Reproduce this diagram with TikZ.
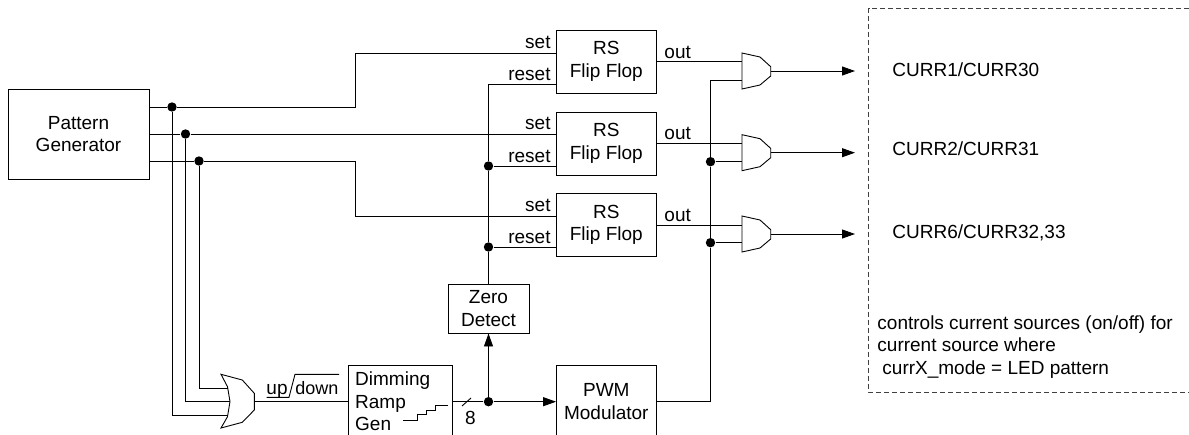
\documentclass[tikz,border=0pt]{standalone}
\usepackage{fontspec}
\setmainfont{Liberation Sans}
\usetikzlibrary{arrows.meta}

\begin{document}
\begin{tikzpicture}[x=1pt,y=-1pt,line width=0.9pt,>={Triangle[length=13pt,width=9pt]},
  every node/.style={font=\fontsize{19}{22.5}\selectfont}]
  \tikzstyle{block}=[draw,rectangle,inner sep=0pt,align=center]
  \tikzstyle{flipflop}=[block,minimum width=99.5pt,minimum height=63pt]
  \tikzstyle{dot}=[circle,fill=black,inner sep=0pt,minimum size=9.4pt]
  \tikzstyle{lbl}=[inner sep=0pt,anchor=base east]
  \tikzstyle{outlbl}=[inner sep=0pt,anchor=base west]
  \tikzstyle{sink}=[inner sep=0pt,anchor=west]
  \useasboundingbox (0,0) rectangle (1189,434);

  \node [block,minimum width=141pt,minimum height=90pt] (gen) at (78.5,134) {Pattern\\Generator};
  \node [flipflop] (ff1) at (606.3,61.5) {RS\\Flip Flop};
  \node [flipflop] (ff2) at (606.3,143.5) {RS\\Flip Flop};
  \node [flipflop] (ff3) at (606.3,225) {RS\\Flip Flop};
  \node [block,minimum width=81pt,minimum height=49pt] (zero) at (488.5,308.5) {Zero\\Detect};
  \node [block,minimum width=104.5pt,minimum height=72pt,text width=90pt,align=left] (ramp) at (400.2,401.7) {Dimming\\Ramp\\Gen};
  \node [block,minimum width=99.5pt,minimum height=72pt] (pwm) at (606.3,401.7) {PWM\\Modulator};

  % pattern generator outputs
  \coordinate (gen1) at (149,107);
  \coordinate (gen3) at (149,161);
  \node [dot] (d1) at (172,107) {};
  \node [dot] (d2) at (185.5,134) {};
  \node [dot] (d3) at (199,161) {};
  \coordinate (s1) at (556.5,53);
  \coordinate (s2) at (556.5,134);
  \coordinate (s3) at (556.5,216);
  \coordinate (r1) at (556.5,84);
  \coordinate (r2) at (556.5,166);
  \coordinate (r3) at (556.5,247);
  \draw (gen1) -- (d1) -- (355,107) -- (355,53) -- (s1);
  \draw (gen.east |- d2) -- (d2) -- (s2);
  \draw (gen3) -- (d3) -- (355,161) -- (355,216) -- (s3);

  % or gate
  \draw (221,374.3) -- (242.3,380) -- (254.3,393.3) -- (254.3,410) -- (242.3,422.3)
        -- (221,428) -- (227.5,416.7) -- (230,401.7) -- (227.5,386.7) -- cycle;
  \coordinate (or1) at (228,388.3);
  \coordinate (or2) at (230,401.7);
  \coordinate (or3) at (228,415);
  \coordinate (orout) at (254.3,401.7);
  \draw (d1) |- (or3);
  \draw (d2) |- (or2);
  \draw (d3) |- (or1);
  \draw (orout) -- (ramp);
  \node [inner sep=0pt,anchor=base west] (updown) at (266,394) {up};
  \node [inner sep=0pt,anchor=base west,font=\fontsize{18}{22}\selectfont] (downlbl) at (295,394) {down};
  \draw (266.7,397.3) -- (289,397.3) -- (295,374.3) -- (339,374.3);

  % ramp output and staircase
  \draw (403,420) -- (417,420) -- (417,414.3) -- (426,414.3) -- (426,410) -- (435,410) -- (435,405.7) -- (447.7,405.7);
  \node [dot] (d4) at (488.5,401.7) {};
  \draw (ramp) -- (d4);
  \draw (462,406) -- (471,398);
  \node [inner sep=0pt] (width) at (470.5,418) {8};
  \draw [->] (d4) -- (zero);
  \draw [->] (d4) -- (pwm);

  % reset bus
  \node [dot] (d5) at (488.5,166) {};
  \node [dot] (d6) at (488.5,247) {};
  \draw (zero) -- (d6) -- (d5) -- (488.5,84) -- (r1);
  \draw (d5) -- (r2);
  \draw (d6) -- (r3);

  \node [lbl] (set1) at (551,48.5) {set};
  \node [lbl] (reset1) at (551,80) {reset};
  \node [lbl] (set2) at (551,129.5) {set};
  \node [lbl] (reset2) at (551,162) {reset};
  \node [lbl] (set3) at (551,211.5) {set};
  \node [lbl] (reset3) at (551,243) {reset};
  \node [outlbl] (out1) at (664,58) {out};
  \node [outlbl] (out2) at (664,139) {out};
  \node [outlbl] (out3) at (664,221) {out};

  % and gates
  \draw (742,53) -- (760,57) -- (770.7,66.7) -- (770.7,76) -- (760,85) -- (742,89) -- cycle;
  \draw (742,134.7) -- (760,138.7) -- (770.7,148.4) -- (770.7,157.7) -- (760,166.7) -- (742,170.7) -- cycle;
  \draw (742,216) -- (760,220) -- (770.7,229.7) -- (770.7,239) -- (760,248) -- (742,252) -- cycle;
  \coordinate (a1) at (742,61.5);
  \coordinate (b1) at (742,80);
  \coordinate (c1) at (770.7,71);
  \coordinate (a2) at (742,143.5);
  \coordinate (b2) at (742,161.7);
  \coordinate (c2) at (770.7,152.7);
  \coordinate (a3) at (742,225);
  \coordinate (b3) at (742,242.7);
  \coordinate (c3) at (770.7,234);
  \coordinate (e1) at (855,71);
  \coordinate (e2) at (855,152.7);
  \coordinate (e3) at (855,234);
  \draw (ff1) -- (a1);
  \draw (ff2) -- (a2);
  \draw (ff3) -- (a3);
  \draw [->] (c1) -- (e1);
  \draw [->] (c2) -- (e2);
  \draw [->] (c3) -- (e3);

  % pwm to gates
  \node [dot] (d7) at (710.5,161.7) {};
  \node [dot] (d8) at (710.5,242.7) {};
  \draw (pwm) -| (d8) -- (d7) -- (710.5,80) -- (b1);
  \draw (d7) -- (b2);
  \draw (d8) -- (b3);

  % current sources
  \draw [black!75,dash pattern=on 5pt off 3pt] (1189,8) -- (868.7,8) -- (868.7,392) -- (1189,392);
  \node [sink] (curr1) at (892,70) {CURR1/CURR30};
  \node [sink] (curr2) at (892,149) {CURR2/CURR31};
  \node [sink] (curr3) at (892,233) {CURR6/CURR32,33};
  \node [sink,align=left] (note) at (877,347) {controls current sources (on/off) for\\current source where\\\hspace*{5pt}currX\_mode = LED pattern};
\end{tikzpicture}
\end{document}
